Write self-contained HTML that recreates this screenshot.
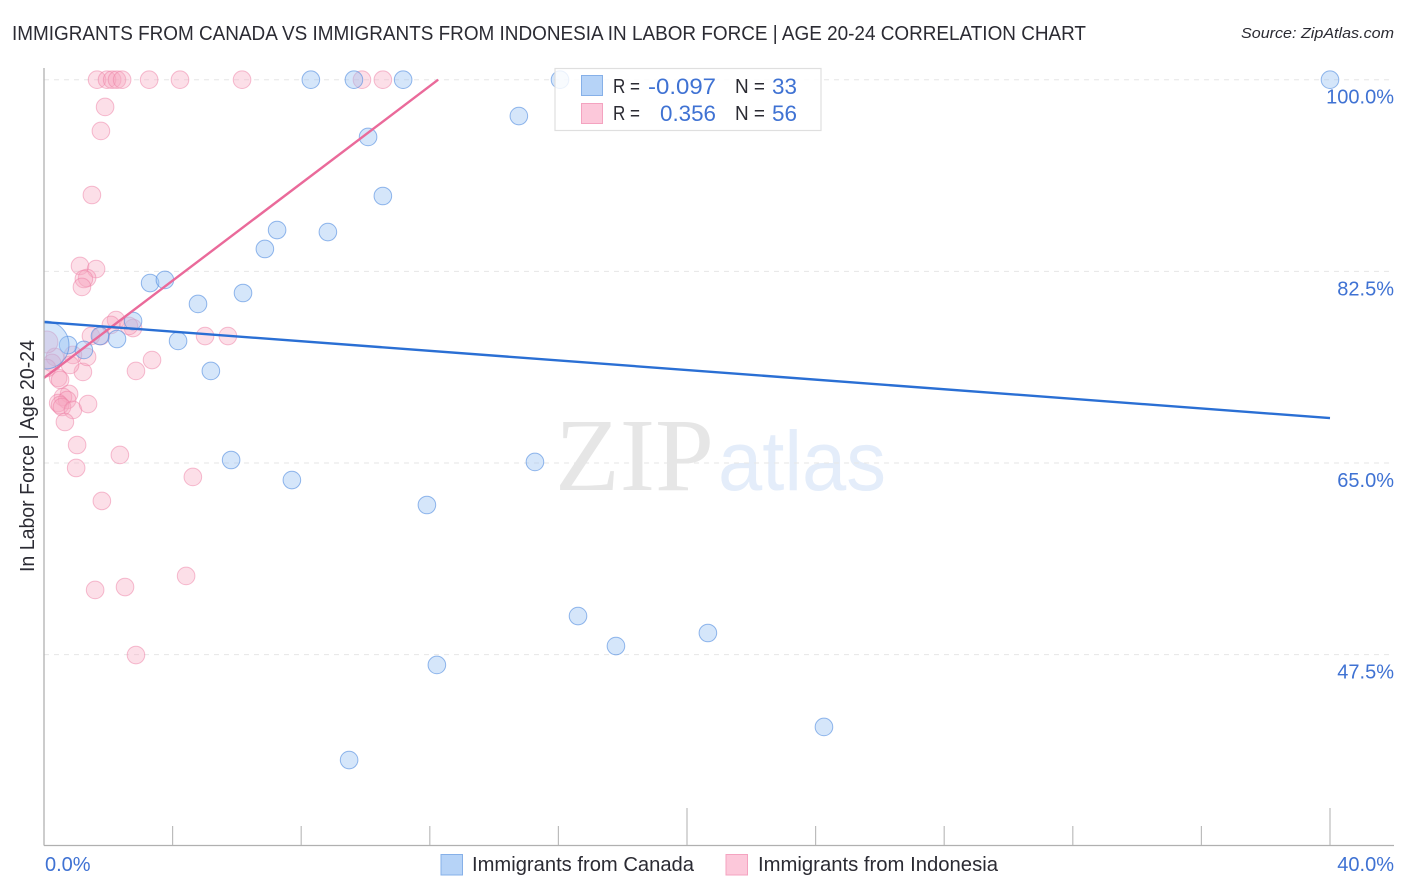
<!DOCTYPE html>
<html lang="en">
<head>
<meta charset="utf-8">
<title>Immigrants from Canada vs Immigrants from Indonesia in Labor Force | Age 20-24 Correlation Chart</title>
<style>
html,body{margin:0;padding:0;background:#fff;width:1406px;height:892px;overflow:hidden}
svg{display:block}
text{font-family:"Liberation Sans",sans-serif}
.blue{fill:#3f72d3}
.dark{fill:#2b2b33}
</style>
</head>
<body>
<svg id="chart" xmlns="http://www.w3.org/2000/svg" width="1406" height="892" viewBox="0 0 1406 892">
  <rect x="0" y="0" width="1406" height="892" fill="#ffffff"/>
  <text x="12" y="40" font-size="20" class="dark" textLength="1074" lengthAdjust="spacingAndGlyphs">IMMIGRANTS FROM CANADA VS IMMIGRANTS FROM INDONESIA IN LABOR FORCE | AGE 20-24 CORRELATION CHART</text>
  <text x="1241" y="38" font-size="15" font-style="italic" class="dark" textLength="153" lengthAdjust="spacingAndGlyphs">Source: ZipAtlas.com</text>

  <g>
    <text x="555" y="490" font-size="104" style="font-family:'Liberation Serif',serif" fill="#e6e6e6" textLength="159" lengthAdjust="spacingAndGlyphs">ZIP</text>
    <text x="718" y="490" font-size="84" fill="#e4edfa" textLength="168" lengthAdjust="spacingAndGlyphs">atlas</text>
  </g>

  <g id="grid"></g>
  <g id="pinkPoints" clip-path="url(#plotClip)"></g>
  <g id="bluePoints" clip-path="url(#plotClip)"></g>
  <g id="trends"></g>
  <g id="axes"></g>
  <clipPath id="plotClip"><rect x="44" y="60" width="1350" height="785"/></clipPath>

  <text transform="translate(34,572) rotate(-90)" x="0" y="0" font-size="20" class="dark" textLength="232" lengthAdjust="spacingAndGlyphs">In Labor Force | Age 20-24</text>

  <g>
    <rect x="555" y="68.500" width="266" height="62" fill="#ffffff" fill-opacity="0.82" stroke="#dfdfdf" stroke-width="1.200"/>
    <rect x="581.500" y="75.500" width="21" height="20" fill="#b6d3f7" stroke="#86b0e8" stroke-width="1"/>
    <rect x="581.500" y="103.500" width="21" height="20" fill="#fcc8da" stroke="#f4a3c0" stroke-width="1"/>
    <text x="613" y="93" font-size="20" class="dark" textLength="27" lengthAdjust="spacingAndGlyphs">R =</text>
    <text x="648" y="94" font-size="22" class="blue" textLength="68" lengthAdjust="spacingAndGlyphs">-0.097</text>
    <text x="735" y="93" font-size="20" class="dark" textLength="30" lengthAdjust="spacingAndGlyphs">N =</text>
    <text x="772" y="94" font-size="22" class="blue" textLength="25" lengthAdjust="spacingAndGlyphs">33</text>
    <text x="613" y="120" font-size="20" class="dark" textLength="27" lengthAdjust="spacingAndGlyphs">R =</text>
    <text x="660" y="121" font-size="22" class="blue" textLength="56" lengthAdjust="spacingAndGlyphs">0.356</text>
    <text x="735" y="120" font-size="20" class="dark" textLength="30" lengthAdjust="spacingAndGlyphs">N =</text>
    <text x="772" y="121" font-size="22" class="blue" textLength="25" lengthAdjust="spacingAndGlyphs">56</text>
  </g>

  <g>
    <rect x="441" y="854.500" width="21.500" height="20.500" fill="#b6d3f7" stroke="#86b0e8" stroke-width="1"/>
    <text x="472" y="871" font-size="20" class="dark" textLength="222" lengthAdjust="spacingAndGlyphs">Immigrants from Canada</text>
    <rect x="726" y="854.500" width="21.500" height="20.500" fill="#fcc8da" stroke="#f4a3c0" stroke-width="1"/>
    <text x="758" y="871" font-size="20" class="dark" textLength="240" lengthAdjust="spacingAndGlyphs">Immigrants from Indonesia</text>
  </g>
</svg>

<script>
// ---- data ----
const canadaX = [8.30,9.64,11.17,16.05,40,14.77,10.08,10.54,7.25,8.83,6.87,3.30,3.76,6.19,4.79,2.77,2.27,1.74,1.24,0.75,4.17,5.19,5.82,7.71,15.27,11.91,16.61,17.79,20.65,12.22,24.26,9.49,0.03];
const canadaY = [100,100,100,100,100,96.68,94.77,89.38,86.27,86.09,84.54,81.43,81.71,80.52,79.52,77.96,76.32,76.59,75.32,75.77,76.14,73.40,65.27,63.44,65.09,61.16,51.02,48.28,49.47,46.55,40.89,37.87,75.77];
const indonesiaX = [1.65,1.96,2.12,2.27,2.43,3.27,4.23,6.16,9.89,10.54,1.90,1.77,1.49,1.12,1.62,1.34,1.24,1.18,2.24,2.08,1.46,1.77,2.77,2.64,5.01,5.72,3.36,2.86,1.21,1.34,0.90,0.34,0.25,0.44,0.50,0.81,0.78,0.59,0.72,0.44,0.50,0.56,0.90,1.37,0.65,1.03,2.36,1.00,4.63,1.80,4.42,2.52,1.59,2.86,0.09,0.09];
const indonesiaY = [100,100,100,100,100,100,100,100,100,100,97.51,95.32,89.47,82.99,82.71,81.89,81.80,81.07,78.05,77.60,76.59,76.59,77.32,77.51,76.59,76.59,74.40,73.40,73.31,74.68,74.86,74.68,74.13,72.76,72.58,73.95,71.30,71.02,70.75,70.47,70.29,70.11,69.84,70.38,68.74,66.64,65.73,64.54,63.72,61.53,54.68,53.67,53.40,47.46,76.05,73.67];
const canadaTrendX = [0,40];
const canadaTrendY = [77.87,69.10];
const indonesiaTrendX = [0,12.26];
const indonesiaTrendY = [72.76,100];
const yTicks = [100,82.5,65,47.5];
const yTickLabels = ["100.0%","82.5%","65.0%","47.5%"];
const xTicks = [0,4,8,12,16,20,24,28,32,36,40];
const xEndTicks = [0,40];
const xEndLabels = ["0.0%","40.0%"];

// ---- axis functions ----
function xScale(v){return 44+v*32.15;}
function yScale(v){return 79.7+(100-v)*10.95;}

const NS="http://www.w3.org/2000/svg";
function make(tag,parent,attrs){
  const el=document.createElementNS(NS,tag);
  for(const k in attrs){el.setAttribute(k,attrs[k]);}
  parent.appendChild(el);
  return el;
}

// gridlines and y tick labels
const grid=document.getElementById("grid");
const axes=document.getElementById("axes");
yTicks.forEach(function(t,i){
  const line=make("line",grid,{x1:44,x2:1394,y1:yScale(t),y2:yScale(t),stroke:"#e6e6e6","stroke-width":1,"stroke-dasharray":"5 5"});
  
  
  const label=make("text",axes,{x:1394,y:yScale(t)+24,"text-anchor":"end","font-size":20,fill:"#3f72d3"});
  
  
  label.textContent=yTickLabels[i];
});

// axis lines
const yAxis=make("line",axes,{x1:44,x2:44,y1:68,y2:845.5,stroke:"#b0b0b0","stroke-width":1.3});


const xAxis=make("line",axes,{x1:44,x2:1394,y1:845.5,y2:845.5,stroke:"#b0b0b0","stroke-width":1.3});



// x ticks: every tick is short except the midpoint and the end
xTicks.forEach(function(t){
  const tall=(t===20||t===40);
  const tick=make("line",axes,{x1:xScale(t),x2:xScale(t),y1:tall?808:826,y2:845,stroke:"#bcbcbc","stroke-width":1.2});
  
  
});
xEndTicks.forEach(function(t,i){
  const label=make("text",axes,{x:i===0?xScale(t)+1:1394,y:871,"text-anchor":i===0?"start":"end","font-size":20,fill:"#3f72d3"});
  
  
  label.textContent=xEndLabels[i];
});

// points
const LARGE_CANADA_INDEX=32;
const pinkLayer=document.getElementById("pinkPoints");
indonesiaX.forEach(function(v,i){
  const c=make("circle",pinkLayer,{cx:xScale(v),cy:yScale(indonesiaY[i]),r:i===54?11:8.8,fill:"#f8a5c0","fill-opacity":0.36,stroke:"#ee7ea3","stroke-opacity":0.5,"stroke-width":1});
  
  
});
const blueLayer=document.getElementById("bluePoints");
canadaX.forEach(function(v,i){
  const c=make("circle",blueLayer,{cx:xScale(v),cy:yScale(canadaY[i]),r:i===LARGE_CANADA_INDEX?24:8.8,fill:"#9cc3f3","fill-opacity":0.42,stroke:"#4f8be0","stroke-opacity":0.6,"stroke-width":1});
  
  
});

// trend lines
const trends=document.getElementById("trends");
const pinkLine=make("line",trends,{x1:xScale(indonesiaTrendX[0]),y1:yScale(indonesiaTrendY[0]),x2:xScale(indonesiaTrendX[1]),y2:yScale(indonesiaTrendY[1]),stroke:"#ea6a9a","stroke-width":2.4});


const blueLine=make("line",trends,{x1:xScale(canadaTrendX[0]),y1:yScale(canadaTrendY[0]),x2:xScale(canadaTrendX[1]),y2:yScale(canadaTrendY[1]),stroke:"#2a6fd4","stroke-width":2.4});


</script>
</body>
</html>
